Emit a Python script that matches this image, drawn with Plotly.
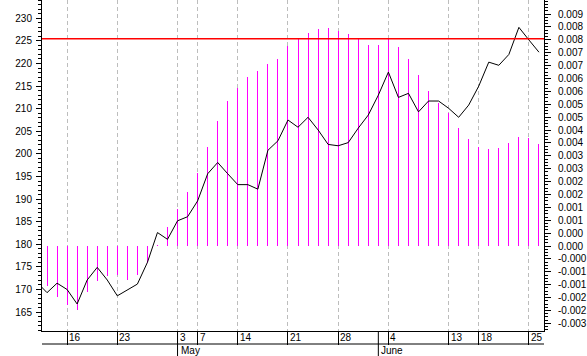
import plotly.graph_objects as go

# ---- data ----
dates = [
    "2012-04-11", "2012-04-12", "2012-04-13", "2012-04-16", "2012-04-17", "2012-04-18",
    "2012-04-19", "2012-04-20", "2012-04-23", "2012-04-24", "2012-04-25", "2012-04-26",
    "2012-04-27", "2012-04-30", "2012-05-03", "2012-05-04", "2012-05-07", "2012-05-08",
    "2012-05-09", "2012-05-10", "2012-05-14", "2012-05-15", "2012-05-16", "2012-05-17",
    "2012-05-18", "2012-05-21", "2012-05-22", "2012-05-23", "2012-05-24", "2012-05-25",
    "2012-05-28", "2012-05-29", "2012-05-30", "2012-05-31", "2012-06-01", "2012-06-04",
    "2012-06-05", "2012-06-06", "2012-06-07", "2012-06-08", "2012-06-11", "2012-06-13",
    "2012-06-14", "2012-06-15", "2012-06-18", "2012-06-19", "2012-06-20", "2012-06-21",
    "2012-06-22", "2012-06-25", "2012-06-26",
]

price = [
    171.6, 169.3, 171.4, 170.0, 166.8, 172.1, 174.9, 172.1, 168.6, 169.9, 171.2,
    176.0, 182.6, 181.1, 185.2, 186.1, 189.6, 195.6, 198.1, 195.6, 193.2, 193.2,
    192.2, 200.8, 202.9, 207.5, 205.9, 208.1, 205.3, 202.1, 201.8, 202.5, 205.7,
    208.6, 213.0, 218.1, 212.5, 213.4, 209.3, 211.7, 211.7, 210.1, 208.1, 210.8,
    215.0, 220.3, 219.6, 222.0, 228.0, 225.2, 222.5,
]

oscillator = [
    -0.00155, -0.00199, -0.0023, -0.0025, -0.00177, -0.00135, -0.00115, -0.00112,
    -0.00132, -0.00112, -0.00067, 0.00002, 0.00073, 0.00142, 0.00211, 0.00284,
    0.00385, 0.00486, 0.00564, 0.00614, 0.00657, 0.00680, 0.00707, 0.00727, 0.00777,
    0.00802, 0.00827, 0.00843, 0.00847, 0.00835, 0.00824, 0.00806, 0.00781, 0.00781,
    0.00802, 0.00773, 0.00727, 0.00665, 0.00602, 0.00556, 0.00517, 0.00459, 0.00414,
    0.00385, 0.00377, 0.00381, 0.00401, 0.00422, 0.00418, 0.00396,
]

red_level = 225.5

tick_dates = ["2012-04-16", "2012-04-23", "2012-05-03", "2012-05-07", "2012-05-14",
              "2012-05-21", "2012-05-28", "2012-06-04", "2012-06-13", "2012-06-18",
              "2012-06-25"]
tick_labels = ["16", "23", "3", "7", "14", "21", "28", "4", "13", "18", "25"]

month_starts = ["2012-05-03", "2012-06-01"]
month_labels = ["May", "June"]

left_tickvals = [165, 170, 175, 180, 185, 190, 195, 200, 205, 210, 215, 220, 225, 230]

right_tickvals = [-0.003, -0.0025, -0.002, -0.0015, -0.001, -0.0005, 0.0, 0.0005, 0.001,
                  0.0015, 0.002, 0.0025, 0.003, 0.0035, 0.004, 0.0045, 0.005, 0.0055,
                  0.006, 0.0065, 0.007, 0.0075, 0.008, 0.0085, 0.009]
right_ticktext = ["-0.003", "-0.002", "-0.002", "-0.001", "-0.001", "-0.000", "0.000",
                  "0.000", "0.001", "0.001", "0.002", "0.002", "0.003", "0.003", "0.004",
                  "0.004", "0.005", "0.005", "0.006", "0.006", "0.007", "0.007", "0.008",
                  "0.008", "0.009"]

FONT = "Liberation Sans, Arial, sans-serif"
PLOT_H = 331.0

fig = go.Figure()
fig.add_trace(go.Bar(
    x=dates[1:], y=oscillator, width=0.1,
    marker=dict(color="rgba(255,0,255,0.999)", line=dict(width=0)),
    yaxis="y", hoverinfo="skip",
))
fig.add_trace(go.Scatter(
    x=dates, y=price, mode="lines",
    line=dict(color="black", width=1),
    yaxis="y2", hoverinfo="skip",
))

shapes = [
    dict(type="line", xref="paper", x0=0, x1=1, yref="y2", y0=red_level, y1=red_level,
         line=dict(color="#ff0000", width=1.5), layer="above"),
    dict(type="line", xref="paper", x0=0, x1=1, yref="paper",
         y0=-13 / PLOT_H, y1=-13 / PLOT_H, line=dict(color="black", width=1)),
]
for m in month_starts:
    shapes.append(dict(type="line", xref="x", x0=m, x1=m, yref="paper",
                       y0=0, y1=-25 / PLOT_H, line=dict(color="black", width=1)))

annotations = []
for d, t in zip(tick_dates, tick_labels):
    annotations.append(dict(x=d, xref="x", y=0, yref="paper", yshift=-6.5,
                            xanchor="left", yanchor="middle", text=t, showarrow=False,
                            font=dict(family=FONT, size=10, color="black")))
for d, t in zip(month_starts, month_labels):
    annotations.append(dict(x=d, xref="x", y=0, yref="paper", yshift=-19.5,
                            xanchor="left", yanchor="middle", text=t, showarrow=False,
                            xshift=1,
                            font=dict(family=FONT, size=10, color="black")))

fig.update_layout(
    width=587, height=356,
    margin=dict(l=42, r=41, t=0, b=25),
    paper_bgcolor="white", plot_bgcolor="white",
    showlegend=False,
    font=dict(family=FONT, size=10, color="black"),
    bargap=0, bargroupgap=0,
    xaxis=dict(
        type="category", categoryorder="array", categoryarray=dates,
        range=[0.5, len(dates) - 0.5],
        tickmode="array", tickvals=tick_dates, showticklabels=False,
        ticks="outside", ticklen=13, tickcolor="black", tickwidth=1,
        showgrid=True, gridcolor="#bdbdbd", griddash="4px,3px", gridwidth=1,
        showline=True, linecolor="black", linewidth=1, zeroline=False,
    ),
    yaxis=dict(
        side="right", range=[-0.003297, 0.009543],
        tickmode="array", tickvals=right_tickvals, ticktext=right_ticktext,
        ticks="outside", ticklen=6, tickcolor="black", tickwidth=1,
        minor=dict(dtick=0.000125, tick0=0, ticks="outside", ticklen=3,
                   tickcolor="black", showgrid=False),
        showline=True, linecolor="black", linewidth=1,
        showgrid=False, zeroline=False, ticklabelstandoff=5,
        tickfont=dict(family=FONT, size=10, color="black"),
    ),
    yaxis2=dict(
        overlaying="y", side="left", anchor="x", range=[160.82, 234.05],
        tickmode="array", tickvals=left_tickvals,
        ticks="outside", ticklen=5, tickcolor="black", tickwidth=1,
        minor=dict(dtick=1, tick0=0, ticks="outside", ticklen=3,
                   tickcolor="black", showgrid=False),
        showline=True, linecolor="black", linewidth=1,
        showgrid=False, zeroline=False, ticklabelstandoff=2,
        tickfont=dict(family=FONT, size=10, color="black"),
    ),
    shapes=shapes,
    annotations=annotations,
)

fig.write_html("out.html")
